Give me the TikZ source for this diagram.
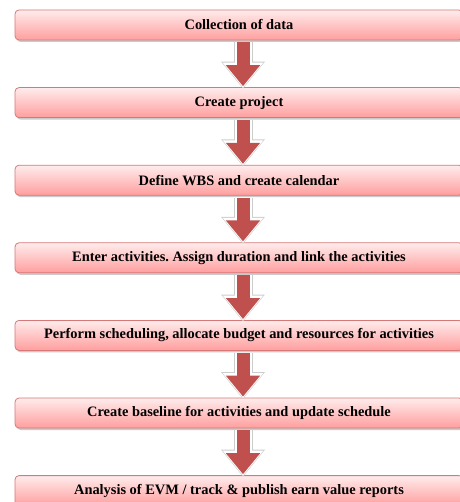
\documentclass[tikz,border=0pt]{standalone}
\usepackage{fontspec}
\setmainfont{Liberation Serif}
\frenchspacing
\usetikzlibrary{
  arrows.meta,
  positioning,
  shadows
}
\definecolor{stageborder}{RGB}{214,120,120}
\definecolor{stagetop}{RGB}{255,236,236}
\definecolor{stagebottom}{RGB}{255,158,158}
\definecolor{flowred}{RGB}{192,80,77}
\tikzset{
  % For the process stages.
  stage/.style={
    rectangle,
    rounded corners=4pt,
    draw=stageborder,
    line width=0.8pt,
    top color=stagetop,
    bottom color=stagebottom,
    minimum width=448pt,
    minimum height=30pt,
    inner sep=0pt,
    drop shadow={shadow xshift=1.5pt, shadow yshift=-2pt,
                 opacity=0.35, fill=black!60},
    font=\fontsize{14.4}{17}\selectfont\bfseries},
%
  % For the fat arrows between two stages, with a white rim.
  flow/.style={
    draw=flowred,
    line width=13pt,
    shorten <=2pt,
    shorten >=1pt,
    -{Triangle[width=33pt, length=21pt]},
    preaction={
      draw=black!20,
      line width=19pt,
      shorten <=2pt,
      shorten >=-1.5pt,
      -{Triangle[width=42pt, length=27pt]}},
    preaction={
      draw=white,
      line width=17pt,
      shorten <=2pt,
      shorten >=-0.5pt,
      -{Triangle[width=39pt, length=25pt]}}}
}

\begin{document}
\begin{tikzpicture}[x=1pt, y=1pt, node distance=46.8pt]
  \useasboundingbox (0,0) rectangle (459,-502);

  \node[stage] (collect) at (239,-25) {Collection of data};
  \node[stage, below=of collect] (project) {Create project};
  \node[stage, below=of project] (wbs) {Define WBS and create calendar};
  \node[stage, below=of wbs] (activities)
    {Enter activities. Assign duration and link the activities};
  \node[stage, below=of activities] (schedule)
    {Perform scheduling, allocate budget and resources for activities};
  \node[stage, below=of schedule] (baseline)
    {Create baseline for activities and update schedule};
  \node[stage, below=of baseline] (evm)
    {Analysis of EVM / track \& publish earn value reports};

  \draw[flow] ([xshift=4pt]collect.south) -- ([xshift=4pt]project.north);
  \draw[flow] ([xshift=4pt]project.south) -- ([xshift=4pt]wbs.north);
  \draw[flow] ([xshift=4pt]wbs.south) -- ([xshift=4pt]activities.north);
  \draw[flow] ([xshift=4pt]activities.south) -- ([xshift=4pt]schedule.north);
  \draw[flow] ([xshift=4pt]schedule.south) -- ([xshift=4pt]baseline.north);
  \draw[flow] ([xshift=4pt]baseline.south) -- ([xshift=4pt]evm.north);
\end{tikzpicture}
\end{document}
